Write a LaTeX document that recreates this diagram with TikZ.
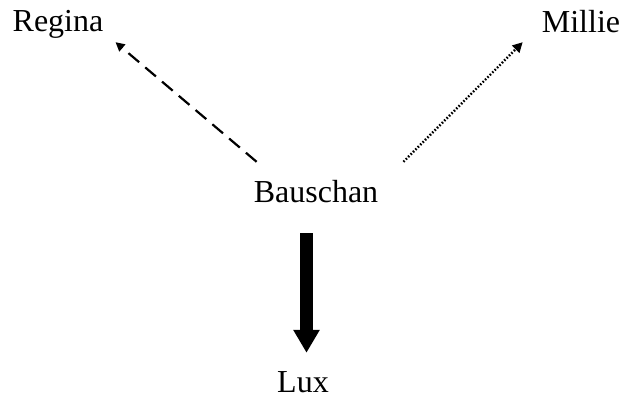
\documentclass[tikz,border=0pt]{standalone}
\usepackage{fontspec}
\setmainfont{Liberation Serif}
\usetikzlibrary{arrows.meta}
\begin{document}
\begin{tikzpicture}[x=1pt,y=1pt,
  lbl/.style={inner sep=0pt, anchor=base, text height=22pt, text depth=7pt, font=\fontsize{32}{34}\selectfont},
  dashlink/.style={line width=2.2pt, dash pattern=on 14pt off 8pt, -{Triangle[width=9pt,length=9pt]}},
  dotlink/.style={line width=2.4pt, dash pattern=on 1.6pt off 1.8pt, -{Triangle[width=10pt,length=10pt]}},
  heavylink/.style={line width=12.5pt, -{Triangle[width=25pt,length=23pt]}}]
\useasboundingbox (0,0) rectangle (624,397);
\node[lbl] (R) at (58,365) {Regina};
\node[lbl] (M) at (581,364) {Millie};
\node[lbl] (B) at (316,195) {Bauschan};
\node[lbl, text depth=0pt] (L) at (303,5) {Lux};
\draw[dashlink] ([shift={(3,18)}]B.north west) -- ([shift={(12,-3)}]R.south east);
\draw[dotlink] ([shift={(25,18)}]B.north east) -- ([shift={(-19,-2)}]M.south west);
\draw[heavylink] ([shift={(-9.5,-24)}]B.south) -- ([shift={(3.5,17)}]L.north);
\end{tikzpicture}
\end{document}
